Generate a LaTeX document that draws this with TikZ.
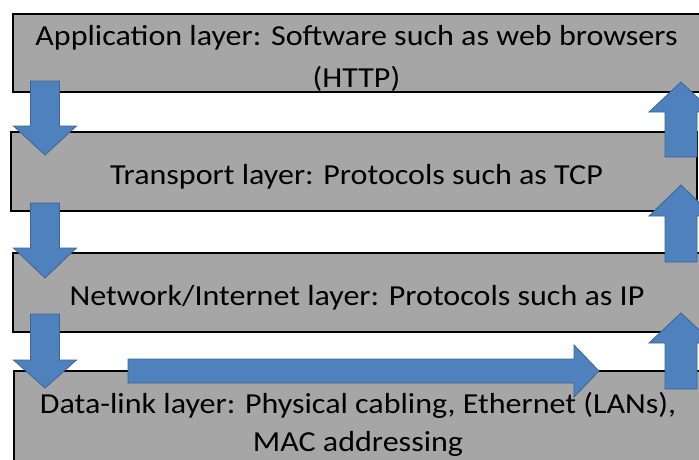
\documentclass[tikz,border=0pt]{standalone}
\usepackage{fontspec}
\setmainfont{Carlito}[FakeStretch=1.105]
\begin{document}
\begin{tikzpicture}[x=1pt,y=-1pt,
  layerbox/.style={draw=black,line width=1.6pt,fill=layergray},
  layertext/.style={anchor=base,inner sep=0pt,font=\fontsize{29}{35}\selectfont,text=black},
  blockarrow/.style={draw=arrowedge,line width=0.8pt,fill=arrowblue,line join=miter}]
\definecolor{layergray}{HTML}{A6A6A6}
\definecolor{arrowblue}{HTML}{4F81BD}
\definecolor{arrowedge}{HTML}{3B6597}
\useasboundingbox[fill=white] (0,0) rectangle (699,459);

% the four protocol layers
\draw[layerbox] (13,14) rectangle (703,92);
\draw[layerbox] (11,132) rectangle (697,211);
\draw[layerbox] (13,253) rectangle (703,332);
\draw[layerbox] (14,371) rectangle (703,463);

\node[layertext] (app1) at (356.5,45) {Application layer: Software such as web browsers};
\node[layertext] (app2) at (356.5,87) {(HTTP)};
\node[layertext] (trans) at (356.5,184) {Transport layer: Protocols such as TCP};
\node[layertext] (net) at (357,305) {Network/Internet layer: Protocols such as IP};
\node[layertext] (link1) at (358,413) {Data-link layer: Physical cabling, Ethernet (LANs),};
\node[layertext] (link2) at (358,451) {MAC addressing};

% downward block arrows on the left (x centre, shaft top, head start, tip)
\newcommand\blockdown[4]{%
  \draw[blockarrow] (#1-14.5,#2) -- (#1+14.5,#2) -- (#1+14.5,#3) -- (#1+31.5,#3)
    -- (#1,#4) -- (#1-31.5,#3) -- (#1-14.5,#3) -- cycle;}
\blockdown{45}{81}{126}{155}
\blockdown{45}{203}{248}{278}
\blockdown{45}{314}{360}{388}

% upward block arrows on the right (x centre, tip, head end, shaft bottom)
\newcommand\blockup[4]{%
  \draw[blockarrow] (#1-16,#4) -- (#1+16,#4) -- (#1+16,#3) -- (#1+32,#3)
    -- (#1,#2) -- (#1-32,#3) -- (#1-16,#3) -- cycle;}
\blockup{681}{82}{112}{157}
\blockup{681}{185}{216}{262}
\blockup{681}{313}{343}{389}

% horizontal block arrow across the data-link layer
\draw[blockarrow] (128,359) -- (574,359) -- (574,345) -- (599,371)
  -- (574,397) -- (574,383) -- (128,383) -- cycle;
\end{tikzpicture}
\end{document}
